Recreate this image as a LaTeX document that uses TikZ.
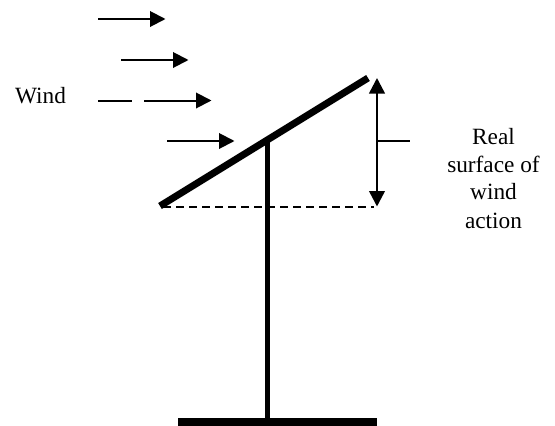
\documentclass[tikz,border=0pt]{standalone}
\usepackage{fontspec}
\setmainfont{Liberation Serif}
\usetikzlibrary{arrows.meta}
\tikzset{
  x=1pt,y=-1pt,
  windarrow/.style={line width=2pt,-{Triangle[length=15.5pt,width=15.5pt]}},
  windline/.style={line width=2pt},
  dimarrow/.style={line width=2.5pt,{Triangle[length=15.5pt,width=15.5pt]}-{Triangle[length=15.5pt,width=15.5pt]}},
  roofline/.style={line width=7pt},
  postline/.style={line width=5pt},
  baseline/.style={line width=8pt},
  dashline/.style={line width=2pt,dash pattern=on 7.5pt off 5.5pt},
  ticklinestyle/.style={line width=1.7pt},
  label/.style={font=\fontsize{23.3}{23.3}\selectfont,anchor=base,inner sep=0pt,text=black}
}
\begin{document}
\begin{tikzpicture}
\useasboundingbox (0,0) rectangle (555,426);
% coordinates
\coordinate (a1s) at (98,19);   \coordinate (a1e) at (165.5,19);
\coordinate (a2s) at (121,60);  \coordinate (a2e) at (188.5,60);
\coordinate (a3d) at (98,100.5); \coordinate (a3g) at (132,100.5);
\coordinate (a3s) at (144,100.5); \coordinate (a3e) at (211.5,100.5);
\coordinate (a4s) at (167,141); \coordinate (a4e) at (234.5,141);
\coordinate (roofL) at (160,206); \coordinate (roofR) at (368,78);
\coordinate (postT) at (267.5,139); \coordinate (postB) at (267.5,418);
\coordinate (baseL) at (178,422); \coordinate (baseR) at (377,422);
\coordinate (dashL) at (163,206.5); \coordinate (dashR) at (374,206.5);
\coordinate (dimT) at (377,78); \coordinate (dimB) at (377,206.5);
\coordinate (tickL) at (377,141); \coordinate (tickR) at (410,141);
% wind
\draw[windarrow] (a1s) -- (a1e);
\draw[windarrow] (a2s) -- (a2e);
\draw[windline] (a3d) -- (a3g);
\draw[windarrow] (a3s) -- (a3e);
\draw[windarrow] (a4s) -- (a4e);
% structure
\draw[dashline] (dashL) -- (dashR);
\draw[postline] (postT) -- (postB);
\draw[roofline] (roofL) -- (roofR);
\draw[baseline] (baseL) -- (baseR);
% dimension
\draw[dimarrow] (dimT) -- (dimB);
\draw[ticklinestyle] (tickL) -- (tickR);
% labels
\node[label] (wind) at (40.5,103) {Wind};
\node[label] (t1) at (493.5,144) {Real};
\node[label] (t2) at (493.5,172) {surface of};
\node[label] (t3) at (493.5,199.5) {wind};
\node[label] (t4) at (493.5,228) {action};
\end{tikzpicture}
\end{document}
